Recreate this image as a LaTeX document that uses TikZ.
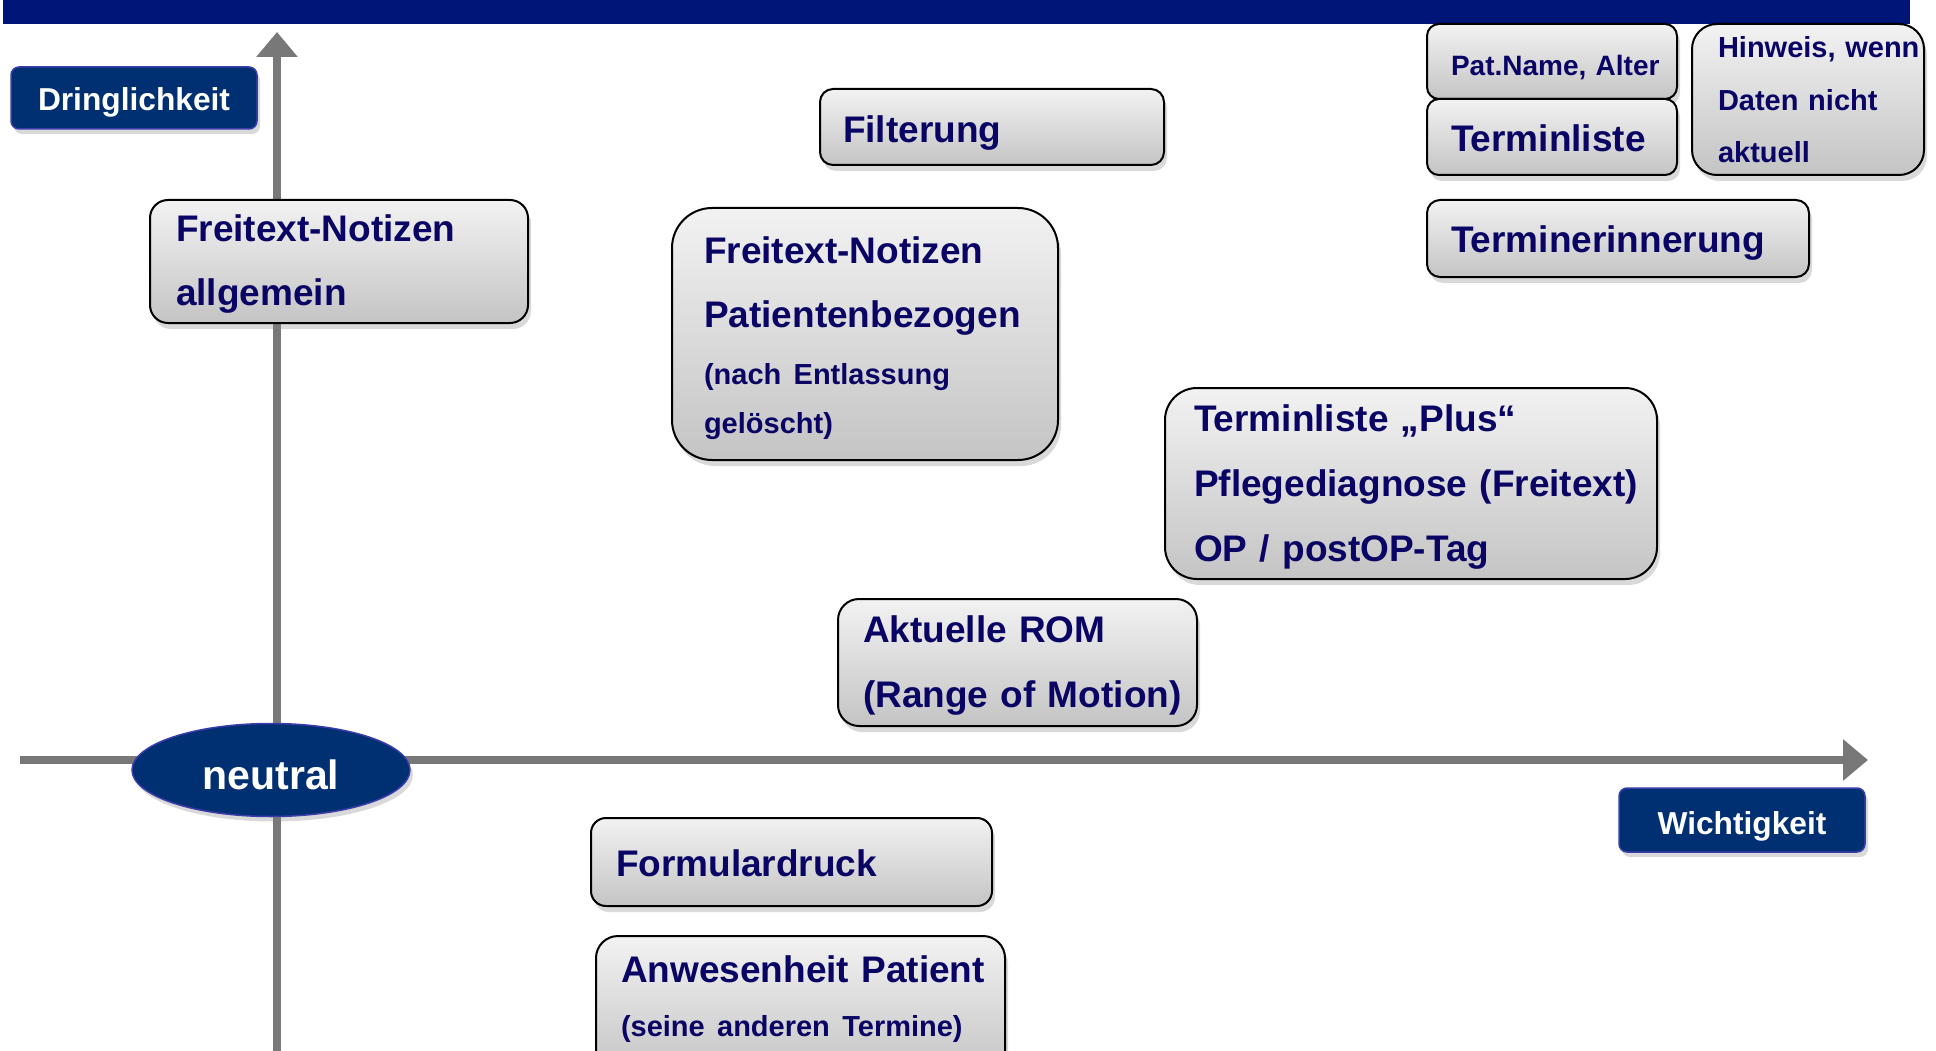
\documentclass[tikz,border=0pt]{standalone}
\usepackage{fontspec}
\setmainfont{Liberation Sans}
\usepackage{tikz}
\usetikzlibrary{arrows.meta,shadows,shapes.geometric}

\definecolor{topbar}{RGB}{0,21,120}
\definecolor{cardtop}{RGB}{242,242,242}
\definecolor{cardbottom}{RGB}{196,196,196}
\definecolor{cardtext}{RGB}{10,5,100}
\definecolor{tagblue}{RGB}{0,48,114}
\definecolor{tagline}{RGB}{60,60,170}
\definecolor{axisgray}{RGB}{120,120,120}

\newcommand{\bigtxt}{\fontsize{37}{64}\selectfont}
\newcommand{\smalltxt}{\fontsize{29}{64}\selectfont}

\tikzset{
  card/.style={draw=black, line width=2pt, top color=cardtop, bottom color=cardbottom,
    text=cardtext, font=\bfseries\bigtxt, align=left, anchor=north west, inner ysep=0pt,
    drop shadow={shadow xshift=3pt, shadow yshift=-6pt, opacity=0.3}},
  tag/.style={draw=tagline, line width=1.5pt, fill=tagblue, text=white, inner sep=0pt,
    text depth=0pt, drop shadow={shadow xshift=3pt, shadow yshift=-5pt, opacity=0.3}},
  tagbox/.style={tag, rounded corners=8pt, minimum width=246pt,
    font=\bfseries\fontsize{31.7}{38}\selectfont},
  axis/.style={draw=axisgray, line width=8pt, -{Triangle[width=40pt,length=25pt]}}
}

\begin{document}
\begin{tikzpicture}[x=1pt,y=-1pt]

\useasboundingbox (0,0) rectangle (1936,1051);

\fill[topbar] (3,0) rectangle (1910,24);

\coordinate (ybase) at (277,1060);
\coordinate (ytip) at (277,32);
\coordinate (xbase) at (20,760);
\coordinate (xtip) at (1868,760);

\draw[axis] (ybase) -- (ytip);
\draw[axis] (xbase) -- (xtip);

\node[tagbox, minimum height=62pt, text height=26pt] (urgency) at (134,98) {Dringlichkeit};
\node[tagbox, minimum height=64pt, text height=28pt] (importance) at (1742,820) {Wichtigkeit};
\node[tag, ellipse, minimum width=278pt, minimum height=93pt, text height=38pt,
  font=\bfseries\fontsize{41}{48}\selectfont] (neutral) at (271,770) {neutral};

\node[card, text width=298pt, inner xsep=23pt, text height=54pt, text depth=22pt,
  rounded corners=13pt] (filter) at (819,88) {Filterung};

\node[card, text width=326pt, inner xsep=26pt, text height=42pt, text depth=81pt,
  rounded corners=18pt] (notesgen) at (149,199)
  {\mbox{Freitext-Notizen}\\allgemein};

\node[card, text width=322pt, inner xsep=32pt, text height=55pt, text depth=197pt,
  rounded corners=40pt] (notespat) at (671,207)
  {\mbox{Freitext-Notizen}\\\mbox{Patientenbezogen}\\[-7pt]\smalltxt\mbox{(nach Entlassung}\\[-15pt]gelöscht)};

\node[card, text width=202pt, inner xsep=24pt, text height=52pt, text depth=23pt,
  rounded corners=12pt, font=\bfseries\fontsize{28}{52}\selectfont] (patname) at (1426,23)
  {\mbox{Pat.Name, Alter}};

\node[card, text width=202pt, inner xsep=24pt, text height=53pt, text depth=23pt,
  rounded corners=12pt] (termlist) at (1426,98) {Terminliste};

\node[card, text width=180pt, inner xsep=26pt, text height=34pt, text depth=117pt,
  rounded corners=25pt, font=\bfseries\fontsize{29}{52.5}\selectfont] (hint) at (1691,23)
  {\mbox{Hinweis, wenn}\\\mbox{Daten nicht}\\aktuell};

\node[card, text width=334pt, inner xsep=24pt, text height=52pt, text depth=25pt,
  rounded corners=13pt] (reminder) at (1426,199) {Terminerinnerung};

\node[card, text width=434pt, inner xsep=29pt, text height=43pt, text depth=148pt,
  rounded corners=32pt, font=\bfseries\fontsize{37}{65}\selectfont] (termplus) at (1164,387)
  {\mbox{Terminliste „Plus“}\\\mbox{Pflegediagnose (Freitext)}\\\mbox{OP / postOP-Tag}};

\node[card, text width=309pt, inner xsep=25pt, text height=43pt, text depth=84pt,
  rounded corners=21pt, font=\bfseries\fontsize{37}{65}\selectfont] (rom) at (837,598)
  {\mbox{Aktuelle ROM}\\\mbox{(Range of Motion)}};

\node[card, text width=351pt, inner xsep=25pt, text height=58pt, text depth=30pt,
  rounded corners=15pt] (formprint) at (590,817) {Formulardruck};

\node[card, text width=359pt, inner xsep=25pt, text height=46pt, text depth=94pt,
  rounded corners=22pt] (presence) at (595,935)
  {\mbox{Anwesenheit Patient}\\[-10pt]\smalltxt\mbox{(seine anderen Termine)}};

\end{tikzpicture}
\end{document}
